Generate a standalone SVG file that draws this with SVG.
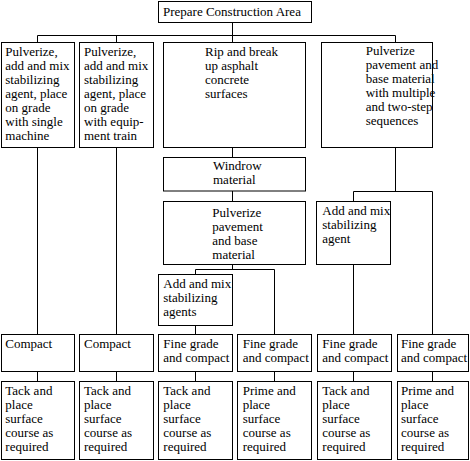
<svg xmlns="http://www.w3.org/2000/svg" width="470" height="461" viewBox="0 0 470 461">
<style>
rect{fill:#fff;stroke:#000;stroke-width:1}
path{fill:none;stroke:#000;stroke-width:1}
text{font-family:"Liberation Serif","Times New Roman",Times,serif;font-size:13px;fill:#000}
</style>
<rect x="0" y="0" width="470" height="461" style="stroke:none"/>
<g id="connectors">
<path d="M232.5 22.5V35.5M37.5 35.5H395.5M37.5 35.5V42.5M116.5 35.5V42.5M232.5 35.5V42.5M395.5 35.5V42.5"/>
<path d="M37.5 147.5V334.5M116.5 147.5V334.5"/>
<path d="M232.5 147.5V157.5M232.5 191V201.5M232.5 264.5V269.5M195.5 269.5H274.5M195.5 269.5V274.5M274.5 269.5V334.5M195.5 325.5V334.5"/>
<path d="M395.5 147.5V191.5M353.5 191.5H432.5M353.5 191.5V201.5M353.5 264.5V334.5M432.5 191.5V334.5"/>
<path d="M37.5 371.5V381.5M116.5 371.5V381.5M195.5 371.5V381.5M274.5 371.5V381.5M353.5 371.5V381.5M432.5 371.5V381.5"/>
</g>
<g id="n-prepare"><rect x="158.5" y="1.5" width="153" height="21"/><text x="163" y="16">Prepare Construction Area</text></g>
<g id="n-single"><rect x="1.5" y="42.5" width="73" height="105"/>
<text x="5.3" y="55.5">Pulverize,</text><text x="5.3" y="69.5">add and mix</text><text x="5.3" y="83.5">stabilizing</text><text x="5.3" y="97.5">agent, place</text><text x="5.3" y="111.5">on grade</text><text x="5.3" y="125.5">with single</text><text x="5.3" y="139.5">machine</text></g>
<g id="n-train"><rect x="79.5" y="42.5" width="74" height="105"/>
<text x="84" y="55.5">Pulverize,</text><text x="84" y="69.5">add and mix</text><text x="84" y="83.5">stabilizing</text><text x="84" y="97.5">agent, place</text><text x="84" y="111.5">on grade</text><text x="84" y="125.5">with equip-</text><text x="84" y="139.5">ment train</text></g>
<g id="n-rip"><rect x="163.5" y="42.5" width="142" height="105"/>
<text x="205" y="55.5">Rip and break</text><text x="205" y="69.5">up asphalt</text><text x="205" y="83.5">concrete</text><text x="205" y="97.5">surfaces</text></g>
<g id="n-multi"><rect x="321.5" y="42.5" width="111" height="105"/>
<text x="365.7" y="55">Pulverize</text><text x="365.7" y="69">pavement and</text><text x="365.7" y="83">base material</text><text x="365.7" y="97">with multiple</text><text x="365.7" y="111">and two-step</text><text x="365.7" y="125">sequences</text></g>
<g id="n-windrow"><rect x="163.5" y="157.5" width="142" height="33.5"/>
<text x="213" y="169.5">Windrow</text><text x="213" y="183.5">material</text></g>
<g id="n-pulv"><rect x="163.5" y="201.5" width="142" height="63"/>
<text x="212.3" y="216.7">Pulverize</text><text x="212.3" y="230.7">pavement</text><text x="212.3" y="244.7">and base</text><text x="212.3" y="258.7">material</text></g>
<g id="n-addagents"><rect x="158.5" y="274.5" width="74" height="51"/>
<text x="163.3" y="287.7">Add and mix</text><text x="163.3" y="301.7">stabilizing</text><text x="163.3" y="315.7">agents</text></g>
<g id="n-addagent"><rect x="316.5" y="201.5" width="74" height="63"/>
<text x="322.3" y="215">Add and mix</text><text x="322.3" y="229">stabilizing</text><text x="322.3" y="243">agent</text></g>
<g id="n-c1"><rect x="1.5" y="334.5" width="73" height="37"/><text x="5.3" y="347.7">Compact</text></g>
<g id="n-c2"><rect x="79.5" y="334.5" width="74" height="37"/><text x="84" y="347.7">Compact</text></g>
<g id="n-c3"><rect x="158.5" y="334.5" width="74" height="37"/><text x="163.3" y="347.7">Fine grade</text><text x="163.3" y="361.7">and compact</text></g>
<g id="n-c4"><rect x="237.5" y="334.5" width="74" height="37"/><text x="242.7" y="347.7">Fine grade</text><text x="242.7" y="361.7">and compact</text></g>
<g id="n-c5"><rect x="317.5" y="334.5" width="74" height="37"/><text x="322.3" y="347.7">Fine grade</text><text x="322.3" y="361.7">and compact</text></g>
<g id="n-c6"><rect x="397.5" y="334.5" width="71" height="37"/><text x="401" y="347.7">Fine grade</text><text x="401" y="361.7">and compact</text></g>
<g id="n-s1"><rect x="1.5" y="381.5" width="73" height="78"/><text x="5.3" y="394.7">Tack and</text><text x="5.3" y="408.7">place</text><text x="5.3" y="422.7">surface</text><text x="5.3" y="436.7">course as</text><text x="5.3" y="450.7">required</text></g>
<g id="n-s2"><rect x="79.5" y="381.5" width="74" height="78"/><text x="84" y="394.7">Tack and</text><text x="84" y="408.7">place</text><text x="84" y="422.7">surface</text><text x="84" y="436.7">course as</text><text x="84" y="450.7">required</text></g>
<g id="n-s3"><rect x="158.5" y="381.5" width="74" height="78"/><text x="163.3" y="394.7">Tack and</text><text x="163.3" y="408.7">place</text><text x="163.3" y="422.7">surface</text><text x="163.3" y="436.7">course as</text><text x="163.3" y="450.7">required</text></g>
<g id="n-s4"><rect x="237.5" y="381.5" width="74" height="78"/><text x="242.7" y="394.7">Prime and</text><text x="242.7" y="408.7">place</text><text x="242.7" y="422.7">surface</text><text x="242.7" y="436.7">course as</text><text x="242.7" y="450.7">required</text></g>
<g id="n-s5"><rect x="317.5" y="381.5" width="74" height="78"/><text x="322.3" y="394.7">Tack and</text><text x="322.3" y="408.7">place</text><text x="322.3" y="422.7">surface</text><text x="322.3" y="436.7">course as</text><text x="322.3" y="450.7">required</text></g>
<g id="n-s6"><rect x="397.5" y="381.5" width="71" height="78"/><text x="401" y="394.7">Prime and</text><text x="401" y="408.7">place</text><text x="401" y="422.7">surface</text><text x="401" y="436.7">course as</text><text x="401" y="450.7">required</text></g>
</svg>
